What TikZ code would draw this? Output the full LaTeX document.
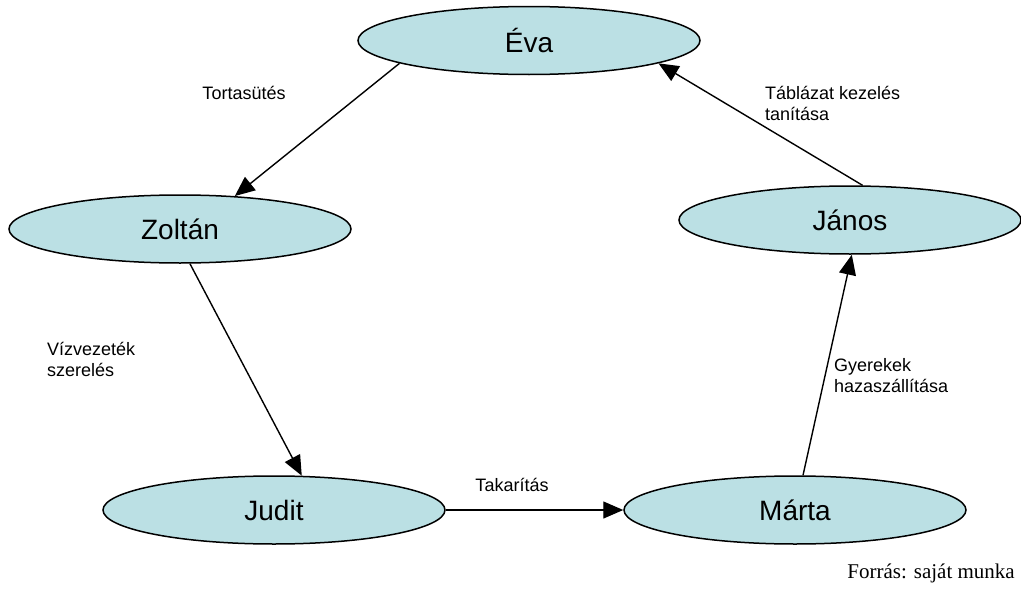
\documentclass[tikz,border=0pt]{standalone}
\usepackage{fontspec}
\setmainfont{Liberation Sans}
\newfontfamily\footfont{Liberation Serif}
\usetikzlibrary{shapes.geometric,arrows.meta}
\definecolor{ellfill}{RGB}{187,224,228}
\tikzset{
  person/.style={ellipse, draw=black, line width=1.5pt, fill=ellfill,
    minimum width=342pt, minimum height=68pt, inner sep=0pt,
    font=\fontsize{28}{33}\selectfont},
  conn/.style={line width=1.4pt, -{Triangle[length=20pt,width=17pt]}},
  lbl/.style={font=\fontsize{18}{21}\selectfont, inner sep=0pt, align=left},
}
\begin{document}
\begin{tikzpicture}[x=1pt,y=-1pt]
\useasboundingbox[fill=white] (0,0) rectangle (1021,589);
\node[person] (eva) at (529,40.5) {Éva};
\node[person] (zoltan) at (180,229) {Zoltán};
\node[person] (janos) at (850,220) {János};
\node[person] (judit) at (274,510) {Judit};
\node[person] (marta) at (795,510) {Márta};

\draw[conn] (eva.190) -- (zoltan.31.6);
\draw[conn] (zoltan.286) -- (judit.51);
\draw[conn] (judit.east) -- (marta.west);
\draw[conn] (marta.77) -- (janos.273);
\draw[conn] (janos.70.6) -- (eva.350);

\node[lbl] (l1) at (244,93) {Tortasütés};
\node[lbl, anchor=west] (l2) at (47,359.5) {Vízvezeték\\szerelés};
\node[lbl] (l3) at (512,485) {Takarítás};
\node[lbl, anchor=west] (l4) at (834,376) {Gyerekek\\hazaszállítása};
\node[lbl, anchor=west] (l5) at (765,103) {Táblázat kezelés\\tanítása};
\node[font=\footfont\fontsize{21}{24}\selectfont, anchor=east, inner sep=0pt] (src) at (1015,573) {Forrás: saját munka};
\end{tikzpicture}
\end{document}
